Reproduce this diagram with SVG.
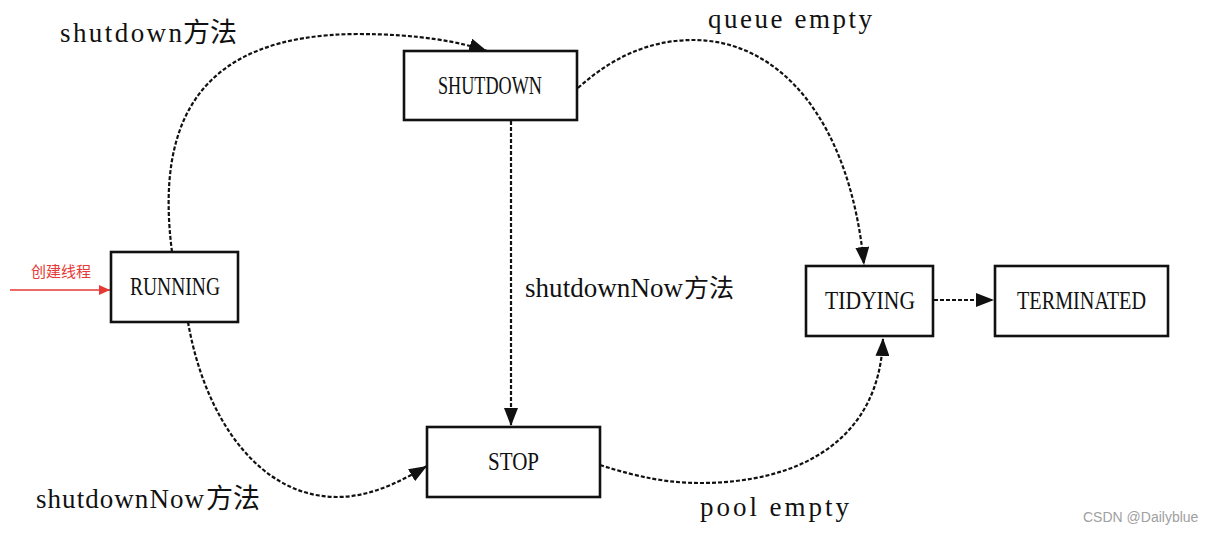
<svg xmlns="http://www.w3.org/2000/svg" width="1212" height="534" viewBox="0 0 1212 534">
<style>
.box{fill:#fff;stroke:#111;stroke-width:2.6}
.nl{font-family:"Liberation Serif",serif;font-size:25px;fill:#111}
.lbl{font-family:"Liberation Serif",serif;font-size:27px;fill:#111}
.cjk{font-family:"Noto Sans CJK SC",sans-serif;fill:#111}
.edge{fill:none;stroke:#111;stroke-width:2.2;stroke-dasharray:4,2}
</style>
<defs>
<marker id="ah" markerUnits="userSpaceOnUse" markerWidth="20" markerHeight="14" refX="18" refY="7" orient="auto">
<path d="M0,0 L18,7 L0,14 Z" fill="#111"/>
</marker>
<marker id="ahr" markerUnits="userSpaceOnUse" markerWidth="12" markerHeight="10" refX="11" refY="5" orient="auto">
<path d="M0,0 L11,5 L0,10 Z" fill="#e53935"/>
</marker>
</defs>
<rect width="1212" height="534" fill="#fff"/>
<g id="connectors">
<path class="edge" d="M172,252 C155,120 200,35 357,34 C420,34 460,42 487,51" marker-end="url(#ah)"/>
<path class="edge" d="M578,88 C620,50 660,40 693,40 C780,40 850,120 864,265" marker-end="url(#ah)"/>
<path class="edge" d="M511,121 L511,426" marker-end="url(#ah)"/>
<path class="edge" d="M188,322 C205,420 260,497 337,497 C370,497 400,482 427,466" marker-end="url(#ah)"/>
<path class="edge" d="M600,465 C640,478 670,483 700,483 C800,483 880,440 883,338" marker-end="url(#ah)"/>
<path class="edge" d="M934,300 L994,300" marker-end="url(#ah)"/>
<path d="M10,290 L110,290" stroke="#e53935" stroke-width="1.5" fill="none" marker-end="url(#ahr)"/>
</g>
<g id="running">
<rect class="box" x="111" y="252" width="127" height="70"/>
<text class="nl" x="130" y="295" textLength="90" lengthAdjust="spacingAndGlyphs">RUNNING</text>
</g>
<g id="shutdown">
<rect class="box" x="404" y="51" width="173" height="69"/>
<text class="nl" x="438" y="94" textLength="104" lengthAdjust="spacingAndGlyphs">SHUTDOWN</text>
</g>
<g id="stop">
<rect class="box" x="427" y="427" width="173" height="70"/>
<text class="nl" x="488" y="470" textLength="51" lengthAdjust="spacingAndGlyphs">STOP</text>
</g>
<g id="tidying">
<rect class="box" x="806" y="266" width="127" height="70"/>
<text class="nl" x="825" y="309" textLength="90" lengthAdjust="spacingAndGlyphs">TIDYING</text>
</g>
<g id="terminated">
<rect class="box" x="995" y="266" width="173" height="70"/>
<text class="nl" x="1017" y="309" textLength="129" lengthAdjust="spacingAndGlyphs">TERMINATED</text>
</g>
<g id="labels">
<text class="lbl" x="60" y="42" textLength="122" lengthAdjust="spacing">shutdown</text>
<text class="cjk" x="183" y="42" font-size="27">方法</text>
<text class="lbl" x="708" y="28" textLength="164" lengthAdjust="spacing">queue empty</text>
<text class="lbl" x="525" y="297" textLength="158" lengthAdjust="spacing">shutdownNow</text>
<text class="cjk" x="684" y="297" font-size="25">方法</text>
<text class="lbl" x="36" y="508" textLength="168" lengthAdjust="spacing">shutdownNow</text>
<text class="cjk" x="206" y="508" font-size="27">方法</text>
<text class="lbl" x="700" y="516" textLength="149" lengthAdjust="spacing">pool empty</text>
<text x="31" y="277" font-family="'Noto Sans CJK SC',sans-serif" font-size="15" fill="#e53935">创建线程</text>
<text x="1083" y="522" font-family="'Liberation Sans',Arial,sans-serif" font-size="14" fill="#a0a0a0">CSDN @Dailyblue</text>
</g>
</svg>
